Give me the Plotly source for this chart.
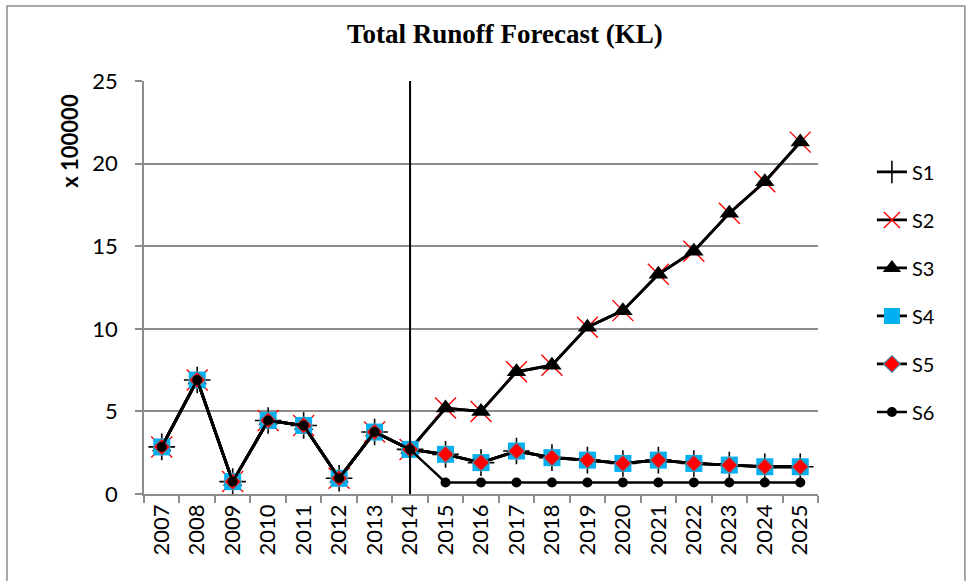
import plotly.graph_objects as go

# Forecast years (category axis)
years = [str(y) for y in range(2007, 2026)]

# Observed runoff shared by every scenario, 2007-2014 (x 100000 KL)
observed = [2.85, 6.9, 0.75, 4.45, 4.15, 0.95, 3.75, 2.7]

# Scenario projections 2015-2025 (x 100000 KL)
s1_future = [2.4, 1.9, 2.6, 2.2, 2.05, 1.85, 2.05, 1.85, 1.75, 1.65, 1.65]
s2_future = [5.2, 5.0, 7.4, 7.8, 10.1, 11.1, 13.3, 14.7, 17.0, 18.9, 21.3]
s3_future = [5.2, 5.0, 7.4, 7.8, 10.1, 11.1, 13.3, 14.7, 17.0, 18.9, 21.3]
s4_future = [2.4, 1.9, 2.6, 2.2, 2.05, 1.85, 2.05, 1.85, 1.75, 1.65, 1.65]
s5_future = [2.4, 1.9, 2.6, 2.2, 2.05, 1.85, 2.05, 1.85, 1.75, 1.65, 1.65]
s6_future = [0.7, 0.7, 0.7, 0.7, 0.7, 0.7, 0.7, 0.7, 0.7, 0.7, 0.7]

series_names = ["S1", "S2", "S3", "S4", "S5", "S6"]
futures = [s1_future, s2_future, s3_future, s4_future, s5_future, s6_future]
forecast_start = "2014"

FONT = "Lato"
GRID = "#8c8c8c"

marker_styles = [
    dict(symbol="cross-thin", size=19, color="black", line=dict(color="black", width=1.6)),
    dict(symbol="x-thin", size=21, color="red", line=dict(color="red", width=1.4)),
    dict(symbol="triangle-up", size=17, color="black", line=dict(color="black", width=0)),
    dict(symbol="square", size=17, color="#00B0F0", line=dict(color="#00B0F0", width=0)),
    dict(symbol="diamond", size=13, color="#FF0000", line=dict(color="#4A8EAA", width=1.2)),
    dict(symbol="circle", size=10, color="black", line=dict(color="black", width=0)),
]
line_widths = [2.8, 2.8, 2.8, 2.8, 2.8, 2.4]

fig = go.Figure()
for name, fut, mk, lw in zip(series_names, futures, marker_styles, line_widths):
    fig.add_trace(go.Scatter(
        x=years, y=observed + fut, name=name, mode="lines+markers",
        line=dict(color="black", width=lw), marker=mk,
        legendgroup=name,
    ))

# vertical divider at the start of the forecast period (category index)
split_idx = years.index(forecast_start)
fig.add_shape(type="line", xref="x", yref="paper", x0=split_idx, x1=split_idx,
              y0=0, y1=1, line=dict(color="black", width=2))

# outer chart frame
fig.add_shape(type="rect", xref="paper", yref="paper",
              x0=-0.2033, x1=1.218, y0=-0.3, y1=1.1816,
              line=dict(color="#8c8c8c", width=1.5), layer="below")

fig.add_annotation(text="<b>x 100000</b>", textangle=-90, xref="paper", yref="paper",
                   x=-0.110, y=0.855, xanchor="center", yanchor="middle", showarrow=False,
                   font=dict(family=FONT, size=22, color="black"))

fig.update_layout(
    width=967, height=581,
    margin=dict(l=144, r=149, t=81, b=87),
    paper_bgcolor="white", plot_bgcolor="white",
    title=dict(text="<b>Total Runoff Forecast (KL)</b>", x=0.522, xanchor="center",
               y=0.943, yanchor="middle",
               font=dict(family="Liberation Serif", size=27, color="black")),
    showlegend=True,
    legend=dict(x=1.08, xanchor="left", y=0.827, yanchor="top",
                font=dict(family=FONT, size=20, color="black"),
                tracegroupgap=19, bgcolor="rgba(0,0,0,0)"),
    xaxis=dict(type="category", categoryorder="array", categoryarray=years,
               range=[-0.5, len(years) - 0.5],
               tickangle=-90, tickson="boundaries", ticks="outside", ticklen=7,
               tickcolor=GRID, tickwidth=1.5, showline=True, linecolor=GRID, linewidth=1.5,
               showgrid=False, tickfont=dict(family=FONT, size=22, color="black")),
    yaxis=dict(range=[0, 25], dtick=5, ticks="outside", ticklen=7, tickcolor=GRID,
               tickwidth=1.5, showline=True, linecolor=GRID, linewidth=1.5,
               showgrid=True, gridcolor=GRID, gridwidth=1.5, zeroline=False,
               ticklabelstandoff=13,
               tickfont=dict(family=FONT, size=22, color="black")),
)

fig.write_html("out.html")
